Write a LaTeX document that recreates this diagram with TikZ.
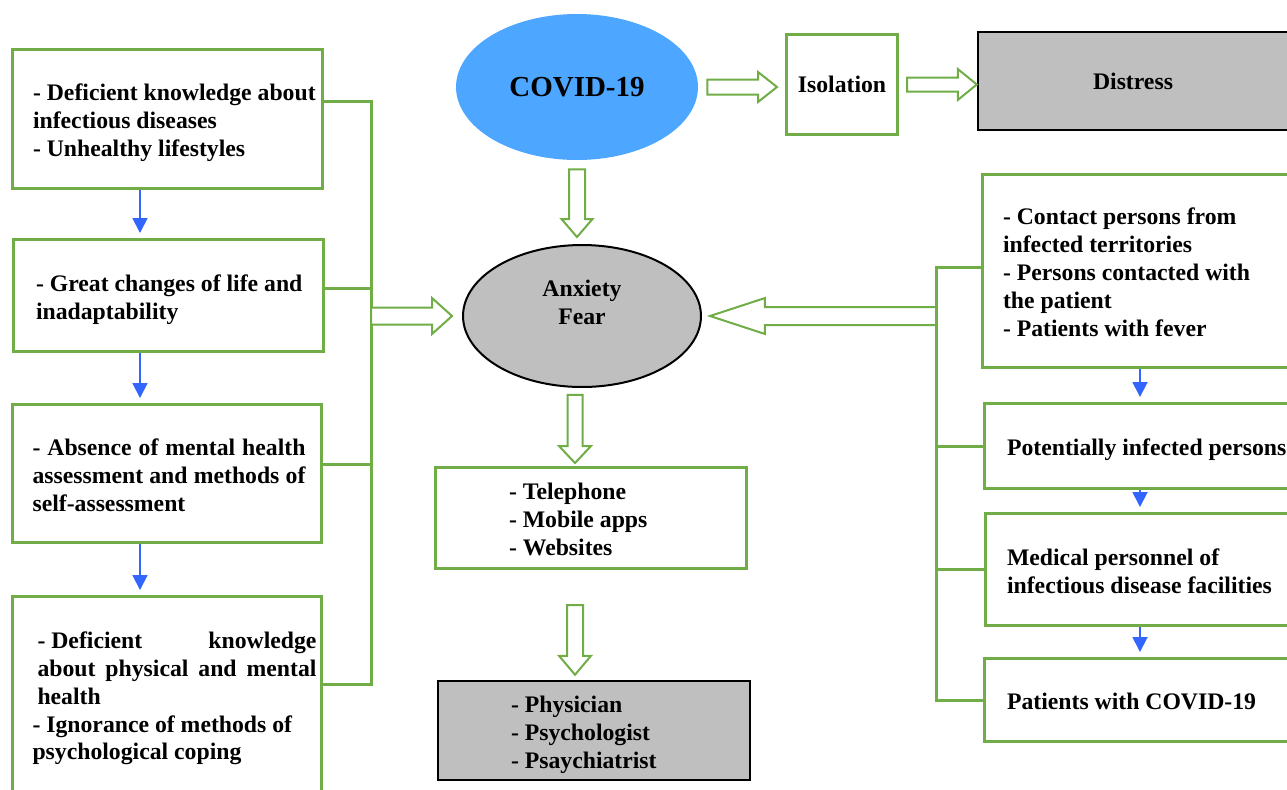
\documentclass[tikz,border=0pt]{standalone}
\usepackage{fontspec}
\setmainfont{Liberation Serif}
\usetikzlibrary{calc}
\usetikzlibrary{arrows.meta}
\usetikzlibrary{shapes.geometric}

\definecolor{boxgreen}{RGB}{112,173,71}
\definecolor{covidblue}{RGB}{77,166,255}
\definecolor{flowblue}{RGB}{51,102,255}
\definecolor{shade}{RGB}{191,191,191}

% box text: inner width, left pad, lines
\newcommand{\boxtext}[3]{\makebox[#1][l]{\hspace*{#2}%
 \raisebox{0pt}[\dimexpr\height+0.16cm\relax][\depth]{\begin{tabular}{@{}l@{}}#3\end{tabular}}}}
% hollow block arrow: shaft half width, head half width, head length, from, to
\newcommand{\hollowarrow}[5]{%
 \coordinate (hb) at ($(#5)!#3!(#4)$);
 \draw[hollow] ($(#4)!#1!90:(#5)$) -- ($(hb)!#1!90:(#5)$) -- ($(hb)!#2!90:(#5)$) -- (#5)
  -- ($(hb)!#2!-90:(#5)$) -- ($(hb)!#1!-90:(#5)$) -- ($(#4)!#1!-90:(#5)$) -- cycle;
}

\begin{document}
\begin{tikzpicture}[x=0.02cm, y=-0.02cm,
 txt/.style={font=\fontsize{13.5}{15.9}\selectfont\bfseries},
 gbox/.style={txt, draw=boxgreen, line width=0.06cm, inner xsep=0.08cm, inner ysep=0pt},
 sbox/.style={gbox, draw=black, line width=0.05cm, fill=shade},
 bus/.style={draw=boxgreen, line width=0.06cm},
 hollow/.style={draw=boxgreen, line width=0.04cm, fill=white, line join=miter},
 flow/.style={draw=flowblue, line width=0.035cm, shorten >=0.1cm, -{Triangle[length=0.3cm,width=0.3cm]}}]
\clip (0,0) rectangle (1287,789);

% left column
\node[gbox, minimum height=2.78cm] (l1) at (167.5,119)
 {\boxtext{6.04cm}{0.33cm}{- Deficient knowledge about\\infectious diseases\\- Unhealthy lifestyles}};
\node[gbox, minimum height=2.24cm] (l2) at (168.5,295.5)
 {\boxtext{6.04cm}{0.37cm}{- Great changes of life and\\inadaptability}};
\node[gbox, minimum height=2.76cm] (l3) at (167,473.5)
 {\boxtext{6.04cm}{0.33cm}{\makebox[5.46cm][s]{- Absence of mental health}\\\makebox[5.46cm][s]{assessment and methods of}\\self-assessment}};
\node[gbox, minimum height=3.92cm] (l4) at (167,694.5)
 {\boxtext{6.04cm}{0.33cm}{\hspace*{0.1cm}\makebox[5.58cm][s]{\mbox{- Deficient} knowledge}\\\hspace*{0.1cm}\makebox[5.58cm][s]{about physical and mental}\\\hspace*{0.1cm}health\\- Ignorance of methods of\\psychological coping}};

% centre column
\node[ellipse, fill=covidblue, minimum width=4.84cm, minimum height=2.92cm,
 font=\fontsize{16.5}{19}\selectfont\bfseries] (covid) at (577,87) {COVID-19};
\node[gbox, minimum width=2.22cm, minimum height=2cm] (iso) at (842,84.5) {Isolation};
\node[sbox, minimum width=6.2cm, minimum height=1.96cm] (dist) at (1133,81) {Distress};
\node[ellipse, txt, draw=black, line width=0.04cm, fill=shade, align=center,
 minimum width=4.76cm, minimum height=2.84cm] (anx) at (582,316) {Anxiety\\Fear\\\mbox{}};
\node[gbox, minimum height=2.02cm] (tele) at (591,518)
 {\boxtext{6.06cm}{1.39cm}{- Telephone\\- Mobile apps\\- Websites}};
\node[sbox, minimum height=1.98cm] (phys) at (594,730.5)
 {\boxtext{6.08cm}{1.38cm}{- Physician\\- Psychologist\\- Psaychiatrist}};

% right column
\node[gbox, minimum height=3.86cm] (contact) at (1147.5,271)
 {\boxtext{6.44cm}{0.33cm}{- Contact persons from\\infected territories\\- Persons contacted with\\the patient\\- Patients with fever}};
\node[gbox, minimum height=1.7cm] (potent) at (1149.5,446)
 {\boxtext{6.44cm}{0.37cm}{Potentially infected persons}};
\node[gbox, minimum height=2.24cm] (medic) at (1150.5,569.5)
 {\boxtext{6.44cm}{0.35cm}{Medical personnel of\\infectious disease facilities}};
\node[gbox, minimum height=1.66cm] (patients) at (1149.5,700)
 {\boxtext{6.44cm}{0.37cm}{Patients with COVID-19}};

% buses
\coordinate (lb1) at (371,101);
\coordinate (lb2) at (371,288);
\coordinate (lb3) at (371,464);
\coordinate (lb4) at (371,684);
\draw[bus] (l1.east |- lb1) -- (lb1) -- (lb4) -- (l4.east |- lb4);
\foreach \n/\c in {l2/lb2, l3/lb3}
 \draw[bus] (\n.east |- \c) -- (\c);
\coordinate (rb) at (936,267);
\draw[bus] (contact.west |- rb) -- (rb) -- (rb |- patients.west) -- (patients.west);
\foreach \n in {potent, medic}
 \draw[bus] (\n.west) -- (\n.west -| rb);

% blue arrows
\coordinate (lx) at (140,0);
\coordinate (rx) at (1140,0);
\foreach \a/\b in {l1/l2, l2/l3, l3/l4}
 \draw[flow] (\a.south -| lx) -- (\b.north -| lx);
\foreach \a/\b in {contact/potent, potent/medic, medic/patients}
 \draw[flow] (\a.south -| rx) -- (\b.north -| rx);

% hollow arrows
\coordinate (a1) at (anx.west -| lb1);
\coordinate (b1) at ($(anx.west)+(-10,0)$);
\hollowarrow{0.17cm}{0.36cm}{0.4cm}{a1}{b1}
\coordinate (a2) at (anx.east -| rb);
\coordinate (b2) at ($(anx.east)+(8,0)$);
\hollowarrow{0.18cm}{0.36cm}{1.1cm}{a2}{b2}
\coordinate (a3) at ($(covid.east)+(9,0)$);
\coordinate (b3) at ($(a3 -| iso.west)+(-8,0)$);
\hollowarrow{0.15cm}{0.3cm}{0.38cm}{a3}{b3}
\coordinate (a4) at ($(iso.east)+(8,0)$);
\coordinate (b4) at (a4 -| dist.west);
\hollowarrow{0.14cm}{0.31cm}{0.38cm}{a4}{b4}
\coordinate (a5) at ($(covid.south)+(0,9)$);
\coordinate (b5) at ($(a5 |- anx.north)+(0,-7)$);
\hollowarrow{0.16cm}{0.31cm}{0.36cm}{a5}{b5}
\coordinate (a6) at ($(anx.south)+(-7,7)$);
\coordinate (b6) at ($(a6 |- tele.north)+(0,-3)$);
\hollowarrow{0.15cm}{0.32cm}{0.34cm}{a6}{b6}
\coordinate (a7) at ($(tele.south)+(-16,35)$);
\coordinate (b7) at ($(a7 |- phys.north)+(0,-5)$);
\hollowarrow{0.16cm}{0.32cm}{0.38cm}{a7}{b7}
\end{tikzpicture}
\end{document}
